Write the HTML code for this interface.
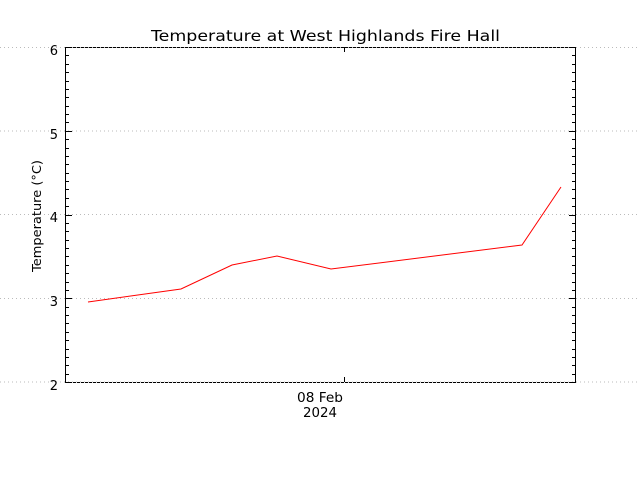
<!DOCTYPE html>
<html><head><style>
html,body{margin:0;padding:0;background:#fff}
svg text{font-family:"DejaVu Sans","Liberation Sans",sans-serif;fill:#000}
</style></head><body>
<svg width="640" height="480" xmlns="http://www.w3.org/2000/svg">
<g stroke="#bbb" stroke-dasharray="1,3" stroke-width="1">
<line x1="0" y1="47.5" x2="640" y2="47.5"/>
<line x1="0" y1="131" x2="640" y2="131"/>
<line x1="0" y1="214.5" x2="640" y2="214.5"/>
<line x1="0" y1="298.5" x2="640" y2="298.5"/>
<line x1="0" y1="382" x2="640" y2="382"/>
</g>
<g stroke="#000" stroke-width="1">
<line x1="65.5" y1="47" x2="65.5" y2="382"/>
<line x1="575.5" y1="47" x2="575.5" y2="382"/>
<line x1="65" y1="47.5" x2="576" y2="47.5" stroke-dasharray="3,1"/>
<line x1="65" y1="382.5" x2="576" y2="382.5" stroke-dasharray="3,1"/>
<line x1="344.5" y1="382" x2="344.5" y2="377"/>
<line x1="344.5" y1="47" x2="344.5" y2="52"/>
</g>
<g id="ticks" stroke="#000" stroke-width="1"></g>
<polyline fill="none" stroke="#f00" stroke-width="1" points="88,302 181,289 232,265 277,256 331,269 522,245 561,187"/>
<g font-size="13" text-anchor="end">
<text x="58" y="55">6</text>
<text x="58" y="139">5</text>
<text x="58" y="222">4</text>
<text x="58" y="306">3</text>
<text x="58" y="390">2</text>
</g>
<text x="151" y="41" font-size="15" textLength="349" lengthAdjust="spacingAndGlyphs">Temperature at West Highlands Fire Hall</text>
<text x="297" y="402" font-size="13" textLength="46" lengthAdjust="spacingAndGlyphs">08 Feb</text>
<text x="303" y="417" font-size="13" textLength="34" lengthAdjust="spacingAndGlyphs">2024</text>
<text transform="translate(41,272) rotate(-90)" font-size="12" textLength="112" lengthAdjust="spacingAndGlyphs">Temperature (°C)</text>
</svg>
<script>
var g=document.getElementById('ticks'),s='';
for(var i=0;i<=40;i++){var y=47+i*335/40;var L=(i%10==0)?7:4;y=Math.round(y)+0.5;
s+='<line x1="65" y1="'+y+'" x2="'+(65+L)+'" y2="'+y+'"/>';
s+='<line x1="576" y1="'+y+'" x2="'+(576-L)+'" y2="'+y+'"/>';}
g.innerHTML=s;
</script>
</body></html>
